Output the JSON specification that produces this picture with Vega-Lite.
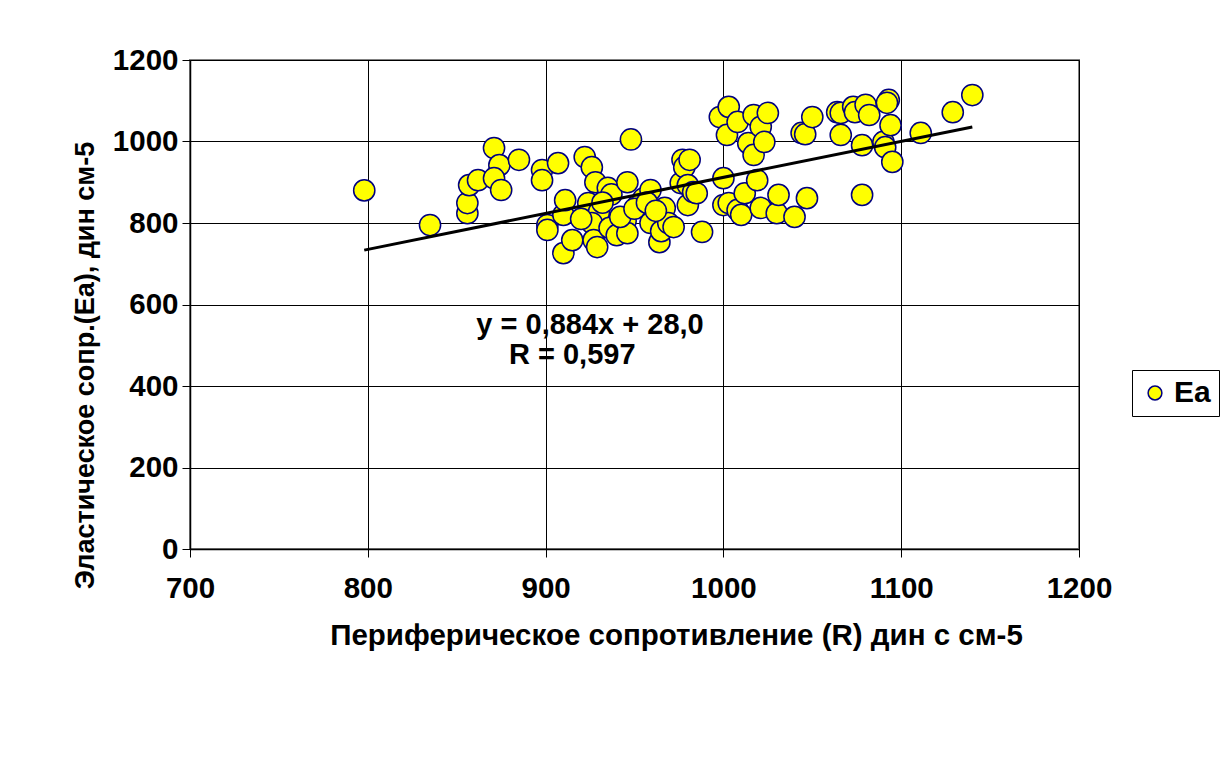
{
  "$schema": "https://vega.github.io/schema/vega-lite/v6.json",
  "width": 889,
  "height": 489,
  "autosize": {"type": "none"},
  "padding": {"left": 190, "top": 60, "right": 150, "bottom": 220},
  "background": "white",
  "config": {
    "view": {"stroke": "#808080", "strokeWidth": 2},
    "font": "Liberation Sans"
  },
  "datasets": {
    "pts": [
      {"R": 798, "Ea": 880, "series": "Ea"}, {"R": 835, "Ea": 795, "series": "Ea"}, {"R": 856, "Ea": 824, "series": "Ea"},
      {"R": 856, "Ea": 849, "series": "Ea"}, {"R": 857, "Ea": 893, "series": "Ea"}, {"R": 862, "Ea": 905, "series": "Ea"},
      {"R": 871, "Ea": 984, "series": "Ea"}, {"R": 874, "Ea": 942, "series": "Ea"}, {"R": 871, "Ea": 910, "series": "Ea"},
      {"R": 875, "Ea": 881, "series": "Ea"}, {"R": 885, "Ea": 955, "series": "Ea"}, {"R": 898, "Ea": 930, "series": "Ea"},
      {"R": 898, "Ea": 905, "series": "Ea"}, {"R": 907, "Ea": 947, "series": "Ea"}, {"R": 901, "Ea": 795, "series": "Ea"},
      {"R": 901, "Ea": 783, "series": "Ea"}, {"R": 910, "Ea": 820, "series": "Ea"}, {"R": 911, "Ea": 856, "series": "Ea"},
      {"R": 910, "Ea": 726, "series": "Ea"}, {"R": 915, "Ea": 758, "series": "Ea"}, {"R": 922, "Ea": 962, "series": "Ea"},
      {"R": 926, "Ea": 937, "series": "Ea"}, {"R": 928, "Ea": 900, "series": "Ea"}, {"R": 924, "Ea": 849, "series": "Ea"},
      {"R": 930, "Ea": 827, "series": "Ea"}, {"R": 926, "Ea": 800, "series": "Ea"}, {"R": 927, "Ea": 758, "series": "Ea"},
      {"R": 929, "Ea": 741, "series": "Ea"}, {"R": 935, "Ea": 886, "series": "Ea"}, {"R": 936, "Ea": 788, "series": "Ea"},
      {"R": 937, "Ea": 870, "series": "Ea"}, {"R": 940, "Ea": 770, "series": "Ea"}, {"R": 945, "Ea": 805, "series": "Ea"},
      {"R": 946, "Ea": 775, "series": "Ea"}, {"R": 946, "Ea": 900, "series": "Ea"}, {"R": 948, "Ea": 1005, "series": "Ea"},
      {"R": 952, "Ea": 844, "series": "Ea"}, {"R": 955, "Ea": 860, "series": "Ea"}, {"R": 959, "Ea": 881, "series": "Ea"},
      {"R": 959, "Ea": 800, "series": "Ea"}, {"R": 964, "Ea": 753, "series": "Ea"}, {"R": 967, "Ea": 837, "series": "Ea"},
      {"R": 965, "Ea": 780, "series": "Ea"}, {"R": 969, "Ea": 800, "series": "Ea"}, {"R": 972, "Ea": 790, "series": "Ea"},
      {"R": 976, "Ea": 898, "series": "Ea"}, {"R": 977, "Ea": 955, "series": "Ea"}, {"R": 978, "Ea": 937, "series": "Ea"},
      {"R": 980, "Ea": 893, "series": "Ea"}, {"R": 981, "Ea": 955, "series": "Ea"}, {"R": 980, "Ea": 844, "series": "Ea"},
      {"R": 983, "Ea": 876, "series": "Ea"}, {"R": 985, "Ea": 873, "series": "Ea"}, {"R": 988, "Ea": 778, "series": "Ea"},
      {"R": 942, "Ea": 815, "series": "Ea"}, {"R": 950, "Ea": 835, "series": "Ea"}, {"R": 957, "Ea": 850, "series": "Ea"},
      {"R": 962, "Ea": 830, "series": "Ea"}, {"R": 920, "Ea": 810, "series": "Ea"}, {"R": 932, "Ea": 850, "series": "Ea"},
      {"R": 998, "Ea": 1060, "series": "Ea"}, {"R": 1002, "Ea": 1016, "series": "Ea"}, {"R": 1003, "Ea": 1085, "series": "Ea"},
      {"R": 1000, "Ea": 910, "series": "Ea"}, {"R": 1000, "Ea": 844, "series": "Ea"}, {"R": 1003, "Ea": 849, "series": "Ea"},
      {"R": 1008, "Ea": 832, "series": "Ea"}, {"R": 1008, "Ea": 1048, "series": "Ea"}, {"R": 1010, "Ea": 820, "series": "Ea"},
      {"R": 1012, "Ea": 873, "series": "Ea"}, {"R": 1014, "Ea": 996, "series": "Ea"}, {"R": 1017, "Ea": 1065, "series": "Ea"},
      {"R": 1017, "Ea": 967, "series": "Ea"}, {"R": 1019, "Ea": 905, "series": "Ea"}, {"R": 1021, "Ea": 837, "series": "Ea"},
      {"R": 1021, "Ea": 1036, "series": "Ea"}, {"R": 1023, "Ea": 999, "series": "Ea"}, {"R": 1025, "Ea": 1070, "series": "Ea"},
      {"R": 1030, "Ea": 824, "series": "Ea"}, {"R": 1031, "Ea": 869, "series": "Ea"}, {"R": 1040, "Ea": 815, "series": "Ea"},
      {"R": 1044, "Ea": 1021, "series": "Ea"}, {"R": 1046, "Ea": 1018, "series": "Ea"}, {"R": 1047, "Ea": 861, "series": "Ea"},
      {"R": 1050, "Ea": 1060, "series": "Ea"}, {"R": 1064, "Ea": 1072, "series": "Ea"}, {"R": 1066, "Ea": 1016, "series": "Ea"},
      {"R": 1066, "Ea": 1070, "series": "Ea"}, {"R": 1073, "Ea": 1085, "series": "Ea"}, {"R": 1074, "Ea": 1072, "series": "Ea"},
      {"R": 1078, "Ea": 991, "series": "Ea"}, {"R": 1078, "Ea": 869, "series": "Ea"}, {"R": 1080, "Ea": 1090, "series": "Ea"},
      {"R": 1082, "Ea": 1065, "series": "Ea"}, {"R": 1090, "Ea": 999, "series": "Ea"}, {"R": 1091, "Ea": 986, "series": "Ea"},
      {"R": 1093, "Ea": 1102, "series": "Ea"}, {"R": 1092, "Ea": 1095, "series": "Ea"}, {"R": 1094, "Ea": 1040, "series": "Ea"},
      {"R": 1095, "Ea": 950, "series": "Ea"}, {"R": 1111, "Ea": 1021, "series": "Ea"}, {"R": 1129, "Ea": 1072, "series": "Ea"},
      {"R": 1140, "Ea": 1114, "series": "Ea"}
    ],
    "trend": [
      {"R": 798, "Ea": 733.4},
      {"R": 1140, "Ea": 1035.8}
    ],
    "notes": [
      {"R": 925, "Ea": 550, "label": "y = 0,884x + 28,0"},
      {"R": 915, "Ea": 476, "label": "R = 0,597"}
    ]
  },
  "encoding": {
    "x": {
      "field": "R", "type": "quantitative",
      "scale": {"domain": [700, 1200], "nice": false, "zero": false},
      "axis": {
        "values": [700, 800, 900, 1000, 1100, 1200],
        "format": "d",
        "labelFlush": false,
        "title": "Периферическое сопротивление (R) дин с см-5",
        "grid": true, "gridColor": "#000000", "gridOpacity": 1, "gridWidth": 1,
        "domainColor": "#000000", "domainWidth": 1.5,
        "tickColor": "#000000", "tickSize": 8, "tickWidth": 1,
        "labelFontSize": 29.5, "labelFontWeight": "bold", "labelColor": "#000000", "labelPadding": 17,
        "titleFontSize": 29.5, "titleFontWeight": "bold", "titleColor": "#000000",
        "titleX": 486, "titleY": 86, "titleBaseline": "middle"
      }
    },
    "y": {
      "field": "Ea", "type": "quantitative",
      "scale": {"domain": [0, 1200], "nice": false},
      "axis": {
        "values": [0, 200, 400, 600, 800, 1000, 1200],
        "format": "d",
        "labelFlush": false,
        "title": "Эластическое сопр.(Ea), дин см-5",
        "grid": true, "gridColor": "#000000", "gridOpacity": 1, "gridWidth": 1,
        "domainColor": "#000000", "domainWidth": 1.5,
        "tickColor": "#000000", "tickSize": 8, "tickWidth": 1,
        "labelFontSize": 29.5, "labelFontWeight": "bold", "labelColor": "#000000", "labelPadding": 4,
        "titleFontSize": 27, "titleFontWeight": "bold", "titleColor": "#000000",
        "titleX": -105, "titleY": 305, "titleBaseline": "middle"
      }
    }
  },
  "layer": [
    {
      "data": {"name": "pts"},
      "mark": {"type": "point", "shape": "circle", "filled": true, "size": 450, "stroke": "#000080", "strokeWidth": 1.5, "opacity": 1},
      "encoding": {
        "color": {
          "field": "series", "type": "nominal",
          "scale": {"domain": ["Ea"], "range": ["#FFFF00"]},
          "legend": {
            "title": null, "orient": "none", "legendX": 942, "legendY": 310,
            "symbolType": "circle", "symbolSize": 190, "symbolStrokeColor": "#000080", "symbolStrokeWidth": 1.5,
            "symbolOpacity": 1, "labelOffset": 4,
            "labelFontSize": 30, "labelFontWeight": "bold", "labelColor": "#000000",
            "strokeColor": "#000000", "padding": 8, "cornerRadius": 0
          }
        }
      }
    },
    {
      "data": {"name": "trend"},
      "mark": {"type": "line", "color": "#000000", "strokeWidth": 3},
      "encoding": {}
    },
    {
      "data": {"name": "notes"},
      "mark": {"type": "text", "fontSize": 29, "fontWeight": "bold", "color": "#000000", "align": "center", "baseline": "middle"},
      "encoding": {"text": {"field": "label"}}
    }
  ]
}
